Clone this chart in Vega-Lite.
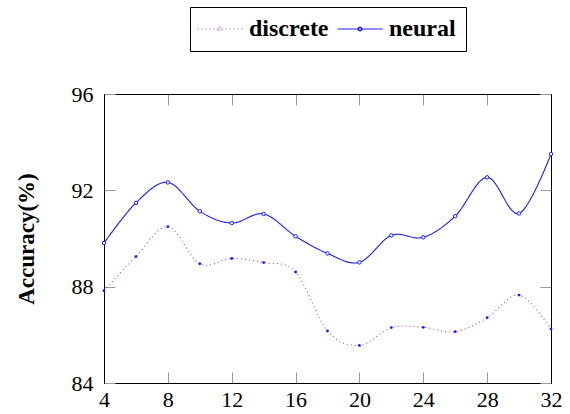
{
  "$schema": "https://vega.github.io/schema/vega-lite/v6.json",
  "width": 447,
  "height": 289,
  "autosize": {"type": "none"},
  "padding": {"left": 104, "top": 94, "right": 19, "bottom": 31},
  "config": {
    "font": "Liberation Serif",
    "view": {"stroke": "black", "strokeWidth": 1},
    "axis": {"labelFont": "Liberation Serif", "titleFont": "Liberation Serif", "labelColor": "black", "titleColor": "black", "domainColor": "black", "tickColor": "#999999", "tickWidth": 1, "grid": false},
    "legend": {"labelFont": "Liberation Serif"}
  },
  "datasets": {
    "acc": [
      {"x": 4, "acc": 87.83, "method": "discrete"},
      {"x": 6, "acc": 89.25, "method": "discrete"},
      {"x": 8, "acc": 90.49, "method": "discrete"},
      {"x": 10, "acc": 88.95, "method": "discrete"},
      {"x": 12, "acc": 89.17, "method": "discrete"},
      {"x": 14, "acc": 89.0, "method": "discrete"},
      {"x": 16, "acc": 88.61, "method": "discrete"},
      {"x": 18, "acc": 86.16, "method": "discrete"},
      {"x": 20, "acc": 85.56, "method": "discrete"},
      {"x": 22, "acc": 86.3, "method": "discrete"},
      {"x": 24, "acc": 86.31, "method": "discrete"},
      {"x": 26, "acc": 86.13, "method": "discrete"},
      {"x": 28, "acc": 86.71, "method": "discrete"},
      {"x": 30, "acc": 87.65, "method": "discrete"},
      {"x": 32, "acc": 86.24, "method": "discrete"},
      {"x": 4, "acc": 89.81, "method": "neural"},
      {"x": 6, "acc": 91.48, "method": "neural"},
      {"x": 8, "acc": 92.33, "method": "neural"},
      {"x": 10, "acc": 91.13, "method": "neural"},
      {"x": 12, "acc": 90.64, "method": "neural"},
      {"x": 14, "acc": 91.02, "method": "neural"},
      {"x": 16, "acc": 90.09, "method": "neural"},
      {"x": 18, "acc": 89.38, "method": "neural"},
      {"x": 20, "acc": 89.01, "method": "neural"},
      {"x": 22, "acc": 90.13, "method": "neural"},
      {"x": 24, "acc": 90.05, "method": "neural"},
      {"x": 26, "acc": 90.93, "method": "neural"},
      {"x": 28, "acc": 92.54, "method": "neural"},
      {"x": 30, "acc": 91.04, "method": "neural"},
      {"x": 32, "acc": 93.51, "method": "neural"}
    ]
  },
  "data": {"name": "acc"},
  "resolve": {"axis": {"x": "independent", "y": "independent"}},
  "layer": [
    {
      "layer": [
        {
          "mark": {"type": "line", "interpolate": "cardinal", "strokeWidth": 1.1},
          "encoding": {
            "x": {"field": "x", "type": "quantitative", "scale": {"domain": [4, 32], "nice": false, "zero": false},
              "axis": {"orient": "bottom", "values": [4, 8, 12, 16, 20, 24, 28, 32], "title": null, "labelFontSize": 22, "tickSize": -11, "labelPadding": 17, "labelFlush": false}},
            "y": {"field": "acc", "type": "quantitative", "scale": {"domain": [84, 96], "nice": false, "zero": false},
              "axis": {"orient": "left", "values": [84, 88, 92, 96], "title": "Accuracy(%)", "titleFontSize": 23, "titleFontWeight": "bold", "titlePadding": 33, "labelFontSize": 22, "tickSize": -11, "labelPadding": 22}},
            "color": {"field": "method", "type": "nominal", "scale": {"domain": ["discrete", "neural"], "range": ["#cc33ee", "#1a1aff"]},
              "legend": {"orient": "none", "legendX": 86, "legendY": -87, "direction": "horizontal", "title": null, "labelFontSize": 24, "labelFontWeight": "bold", "labelColor": "black", "symbolType": "M-3,0L3,0M0.25,0A0.25,0.25 0 1 1 -0.25,0A0.25,0.25 0 1 1 0.25,0", "symbolSize": 225, "symbolOffset": 8, "symbolStrokeWidth": 1.2, "strokeColor": "black", "padding": 10, "columnPadding": 6, "labelOffset": 17, "fillColor": "white"}},
            "strokeDash": {"field": "method", "type": "nominal", "scale": {"domain": ["discrete", "neural"], "range": [[1, 3], [1, 0]]}, "legend": null}
          }
        },
        {
          "transform": [{"filter": "datum.method === 'discrete'"}],
          "mark": {"type": "point", "shape": "circle", "filled": true, "color": "#1a1aff", "size": 8, "opacity": 1},
          "encoding": {
            "x": {"field": "x", "type": "quantitative"},
            "y": {"field": "acc", "type": "quantitative"}
          }
        },
        {
          "transform": [{"filter": "datum.method === 'neural'"}],
          "mark": {"type": "point", "shape": "circle", "filled": false, "fill": "white", "fillOpacity": 1, "stroke": "#1a1aff", "strokeWidth": 1, "size": 12, "opacity": 1},
          "encoding": {
            "x": {"field": "x", "type": "quantitative"},
            "y": {"field": "acc", "type": "quantitative"}
          }
        }
      ]
    },
    {
      "mark": {"type": "point", "opacity": 0},
      "encoding": {
        "x": {"field": "x", "type": "quantitative", "axis": {"orient": "top", "values": [4, 8, 12, 16, 20, 24, 28, 32], "labels": false, "title": null, "tickSize": -11}},
        "y": {"field": "acc", "type": "quantitative", "axis": {"orient": "right", "values": [84, 88, 92, 96], "labels": false, "title": null, "tickSize": -11}}
      }
    }
  ]
}
